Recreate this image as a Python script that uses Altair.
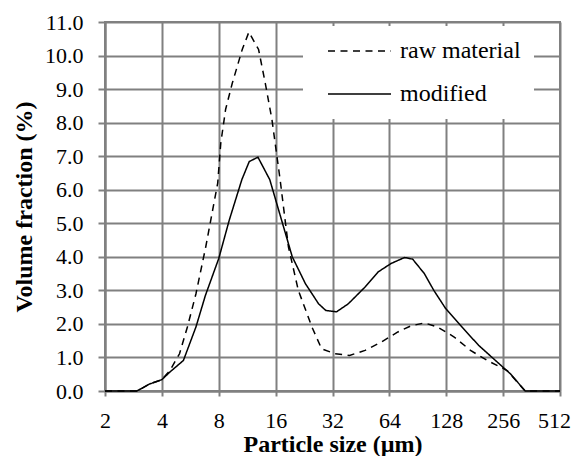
import altair as alt
import pandas as pd

# modified (solid)
mod_x = [2, 2.95, 3.45, 4.0, 4.4, 5.2, 6.06, 6.8, 8.0, 9.1, 10.6, 11.6, 12.9, 14.9, 19.6, 23, 27, 29.5,
         33.6, 38.8, 47.6, 55.8, 65.3, 77, 85, 98, 110, 127, 152, 190, 228, 280, 335, 512]
mod_y = [0, 0, 0.21, 0.34, 0.56, 0.91, 1.91, 2.85, 3.95, 5.1, 6.3, 6.84, 6.97, 6.3, 4.0, 3.2, 2.6, 2.4,
         2.36, 2.6, 3.1, 3.55, 3.8, 3.98, 3.93, 3.5, 3.0, 2.46, 1.96, 1.36, 0.96, 0.51, 0, 0]

# raw material (dashed)
raw_x = [2, 2.95, 3.45, 4.0, 4.4, 4.96, 5.46, 6.06, 6.83, 7.9, 8.2, 8.7, 9.44, 10.65, 11.55, 13.0, 14.1,
         15.3, 16.9, 18.7, 21.1, 24.9, 28, 33, 39.4, 47.6, 58, 71, 83, 98, 115, 141, 172, 211, 269, 335, 512]
raw_y = [0, 0, 0.21, 0.34, 0.6, 1.11, 1.91, 2.9, 4.3, 6.2, 7.39, 8.4, 9.18, 10.18, 10.7, 10.18, 9.18,
         8.09, 6.3, 4.3, 3.0, 1.91, 1.26, 1.11, 1.06, 1.21, 1.46, 1.76, 1.94, 2.03, 1.91, 1.61, 1.21, 0.91,
         0.61, 0, 0]

series_names = ["raw material", "modified"]
x_ticks = [2, 4, 8, 16, 32, 64, 128, 256, 512]
y_ticks = [0, 1, 2, 3, 4, 5, 6, 7, 8, 9, 10, 11]

rows = []
for i, (x, y) in enumerate(zip(raw_x, raw_y)):
    rows.append({"series": series_names[0], "size": x, "value": y, "order": i})
for i, (x, y) in enumerate(zip(mod_x, mod_y)):
    rows.append({"series": series_names[1], "size": x, "value": y, "order": i})
df = pd.DataFrame(rows)

FONT = "Liberation Serif"
GRID = "#808080"

chart = alt.Chart(df).mark_line(color="black", strokeWidth=1.5).encode(
    x=alt.X("size:Q",
            scale=alt.Scale(type="log", base=2, domain=[2, 512], nice=False),
            axis=alt.Axis(values=x_ticks, format="d", title="Particle size (µm)",
                          grid=True, gridColor=GRID, gridWidth=2, gridOpacity=1,
                          domainColor=GRID, domainWidth=2,
                          tickColor=GRID, tickWidth=2, tickSize=5,
                          labelFont=FONT, labelFontSize=22, labelColor="black", labelPadding=14,
                          labelFlush=False,
                          labelOffset={"condition": {"test": "datum.value == 512", "value": -6}, "value": 0},
                          titleFont=FONT, titleFontSize=24, titleFontWeight="bold", titleColor="black",
                          titlePadding=1)),
    y=alt.Y("value:Q",
            scale=alt.Scale(domain=[0, 11], nice=False),
            axis=alt.Axis(values=y_ticks, format=".1f", title="Volume fraction (%)",
                          grid=True, gridColor=GRID, gridWidth=2, gridOpacity=1,
                          domainColor=GRID, domainWidth=2,
                          tickColor=GRID, tickWidth=2, tickSize=7,
                          labelFont=FONT, labelFontSize=22, labelColor="black", labelPadding=15,
                          labelFlush=False,
                          titleFont=FONT, titleFontSize=24, titleFontWeight="bold", titleColor="black",
                          titlePadding=8)),
    strokeDash=alt.StrokeDash("series:N",
                              scale=alt.Scale(domain=series_names, range=[[7, 5.5], [1, 0]]),
                              legend=alt.Legend(title=None, orient="none", legendX=198, legendY=4,
                                                fillColor="white", padding=13,
                                                symbolType="M0,0H6", symbolSize=441,
                                                symbolStrokeColor="black", symbolStrokeWidth=1.5,
                                                labelFont=FONT, labelFontSize=24, labelColor="black",
                                                labelOffset=60, rowPadding=19)),
    order="order:Q",
).properties(
    width=455, height=369,
    autosize=alt.AutoSizeParams(type="none"),
    padding={"left": 97, "top": 14, "right": 11, "bottom": 65},
).configure(background="white", font=FONT).configure_view(stroke=GRID, strokeWidth=2)

chart.save("out.html", embed_options={"renderer": "svg", "actions": False})
